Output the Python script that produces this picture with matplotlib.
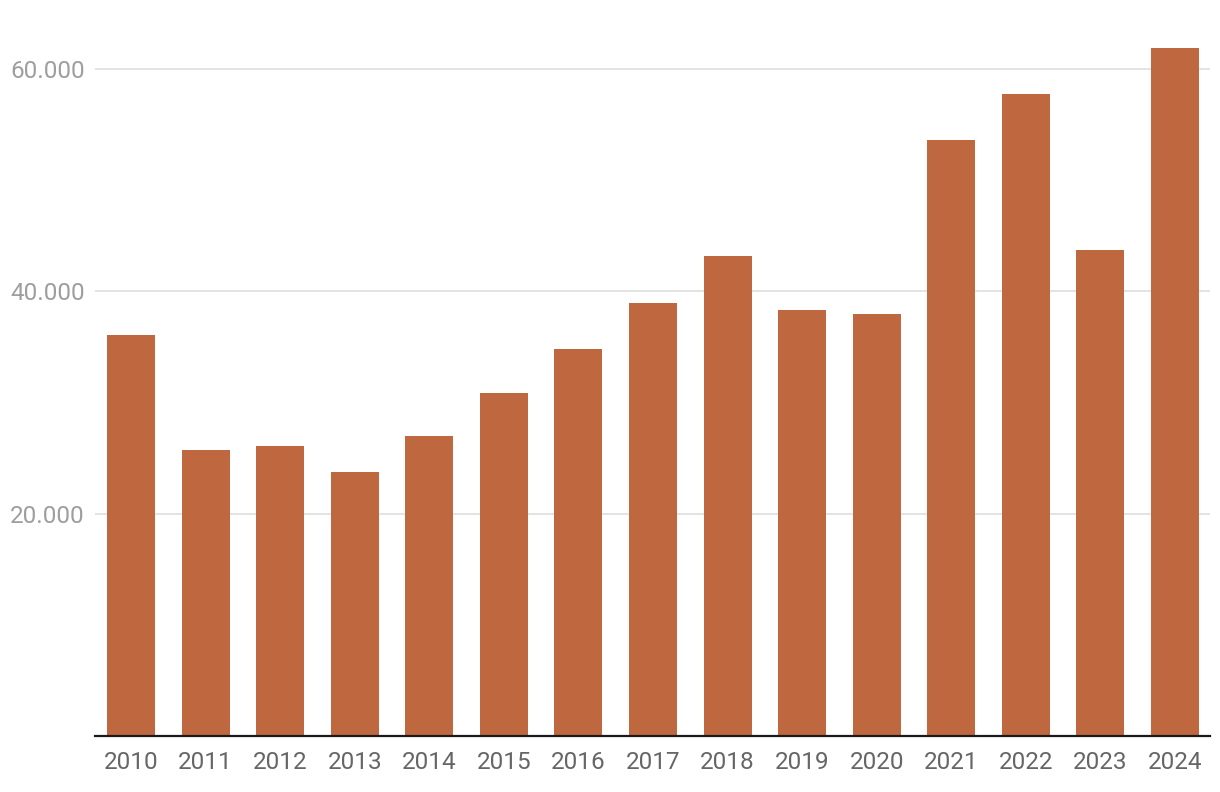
import matplotlib
matplotlib.use("Agg")
import matplotlib.pyplot as plt
from matplotlib.ticker import FuncFormatter

years = ["2010", "2011", "2012", "2013", "2014", "2015", "2016", "2017",
         "2018", "2019", "2020", "2021", "2022", "2023", "2024"]
values = [36050, 25700, 26050, 23750, 26950, 30850, 34800, 38900,
          43150, 38300, 37950, 53600, 57700, 43700, 61850]
yticks = [20000, 40000, 60000]

plt.rcParams['font.family'] = ['Roboto', 'DejaVu Sans']

fig = plt.figure(figsize=(12.2, 7.92), dpi=100)
ax = fig.add_axes([95/1220, 56/792, (1210-95)/1220, (736-2)/792])

x = list(range(len(years)))
ax.bar(x, values, width=0.645, color="#bf683f", zorder=3)

ax.set_xlim(-0.483, 14.47)
ax.set_ylim(0, 66000)
ax.set_yticks(yticks)
ax.yaxis.set_major_formatter(FuncFormatter(lambda v, p: f"{int(v):,}".replace(",", ".")))
ax.set_xticks(x)
ax.set_xticklabels(years)

ax.grid(axis="y", color="#e0e0e0", linewidth=1.3, zorder=0)
for s in ["top", "right", "left"]:
    ax.spines[s].set_visible(False)
ax.spines["bottom"].set_color("#1a1a1a")
ax.spines["bottom"].set_linewidth(1.6)
ax.spines["bottom"].set_zorder(4)

ax.tick_params(axis="y", length=0, pad=7.5, labelsize=17.5, labelcolor="#9e9e9e")
ax.tick_params(axis="x", length=0, pad=11, labelsize=17.5, labelcolor="#666666")

fig.savefig("out.png", dpi=100)
